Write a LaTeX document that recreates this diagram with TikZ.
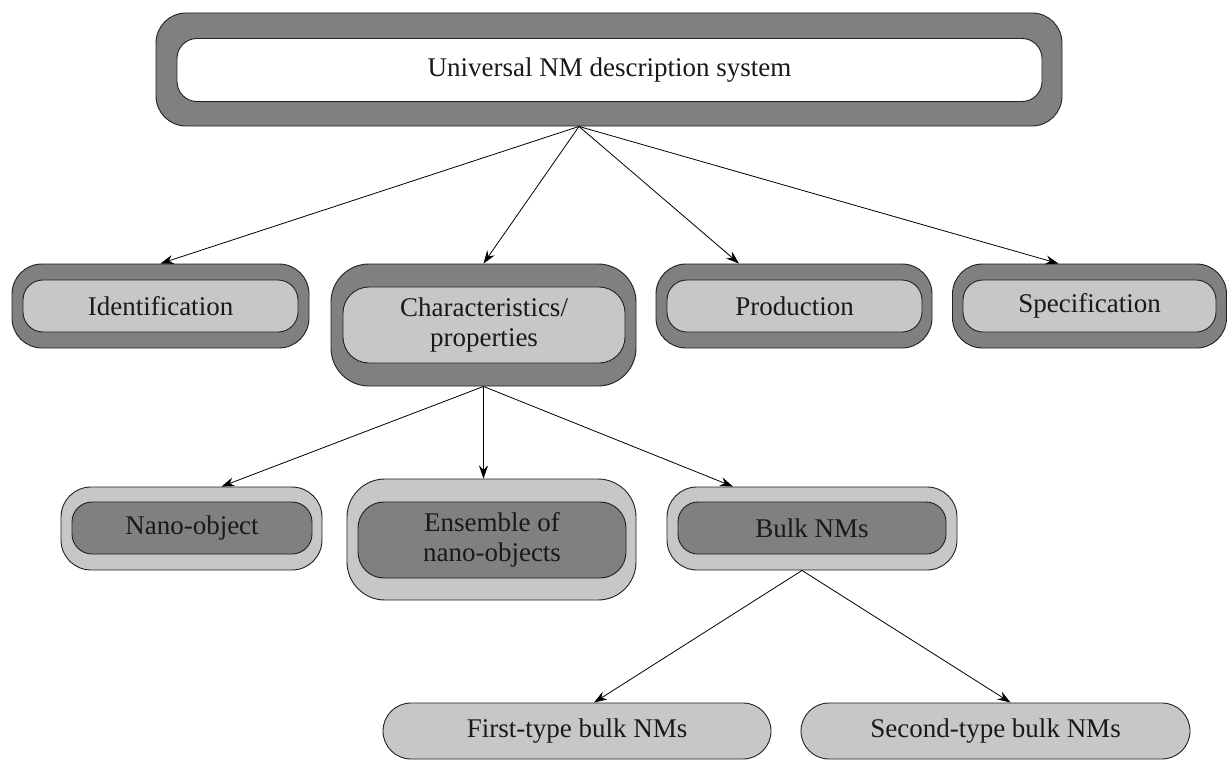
\documentclass[tikz,border=0pt]{standalone}
\usepackage{fontspec}
\setmainfont{Liberation Serif}
\usetikzlibrary{arrows.meta}
\definecolor{dgray}{RGB}{128,128,128}
\definecolor{lgray}{RGB}{198,200,198}
\definecolor{edge}{RGB}{35,31,32}
\tikzset{
  shell/.style={draw=edge,line width=0.9pt,rounded corners=30pt,inner sep=0pt},
  core/.style={draw=edge,line width=0.9pt,rounded corners=20pt,inner sep=0pt,
    align=center,font=\fontsize{27}{30}\selectfont,text=black!90},
  arr/.style={draw=black,line width=0.8pt,-{Stealth[length=13pt,width=9pt]}}
}
\begin{document}
\begin{tikzpicture}[x=1pt,y=-1pt]
\useasboundingbox (0,0) rectangle (1228,760);

% Top of the tree
\node[shell,fill=dgray,minimum width=906pt,minimum height=113pt] (sys) at (609,69.5) {};
\node[core,fill=white,minimum width=865pt,minimum height=63pt] (sysin) at (609.5,70) {Universal NM description system};

% Second level
\node[shell,fill=dgray,minimum width=297pt,minimum height=84pt] (ident) at (160.5,306) {};
\node[core,fill=lgray,minimum width=275pt,minimum height=52pt] (identin) at (160.5,306) {Identification};
\node[shell,fill=dgray,rounded corners=38pt,minimum width=305pt,minimum height=122pt] (char) at (483.5,325) {};
\node[core,fill=lgray,rounded corners=26pt,minimum width=282pt,minimum height=76pt] (charin) at (484,325) {Characteristics/\\properties};
\node[shell,fill=dgray,minimum width=276pt,minimum height=84pt] (prod) at (794,306) {};
\node[core,fill=lgray,minimum width=255pt,minimum height=52pt] (prodin) at (794.5,306) {Production};
\node[shell,fill=dgray,minimum width=274pt,minimum height=84pt] (spec) at (1089.5,306) {};
\node[core,fill=lgray,minimum width=253pt,minimum height=52pt] (specin) at (1089.5,306) {Specification};

% Third level
\node[shell,fill=lgray,minimum width=261pt,minimum height=83pt] (nano) at (191.5,528.5) {};
\node[core,fill=dgray,minimum width=240pt,minimum height=52pt] (nanoin) at (192,528) {Nano-object};
\node[shell,fill=lgray,rounded corners=38pt,minimum width=289pt,minimum height=121pt] (ens) at (491.5,539.5) {};
\node[core,fill=dgray,rounded corners=26pt,minimum width=268pt,minimum height=76pt] (ensin) at (492,540) {Ensemble of\\nano-objects};
\node[shell,fill=lgray,minimum width=290pt,minimum height=83pt] (bulk) at (812,528.5) {};
\node[core,fill=dgray,minimum width=268pt,minimum height=52pt] (bulkin) at (812,528) {Bulk NMs};

% Fourth level
\node[core,fill=lgray,rounded corners=28pt,minimum width=388pt,minimum height=56pt] (first) at (577,731) {First-type bulk NMs};
\node[core,fill=lgray,rounded corners=28pt,minimum width=389pt,minimum height=56pt] (second) at (995.5,731) {Second-type bulk NMs};

% Connectors
\coordinate (hub) at ([xshift=-30pt]sys.south);
\draw[arr] (hub) -- (ident.north);
\draw[arr] (hub) -- (char.north);
\draw[arr] (hub) -- ([xshift=-55pt]prod.north);
\draw[arr] (hub) -- ([xshift=-31pt]spec.north);

\draw[arr] (char.south) -- ([xshift=30pt]nano.north);
\draw[arr] (char.south) -- (char.south |- ens.north);
\draw[arr] (char.south) -- ([xshift=-79pt]bulk.north);

\coordinate (bulkhub) at ([xshift=-10pt]bulk.south);
\draw[arr] (bulkhub) -- ([xshift=17pt]first.north);
\draw[arr] (bulkhub) -- ([xshift=15pt]second.north);
\end{tikzpicture}
\end{document}
